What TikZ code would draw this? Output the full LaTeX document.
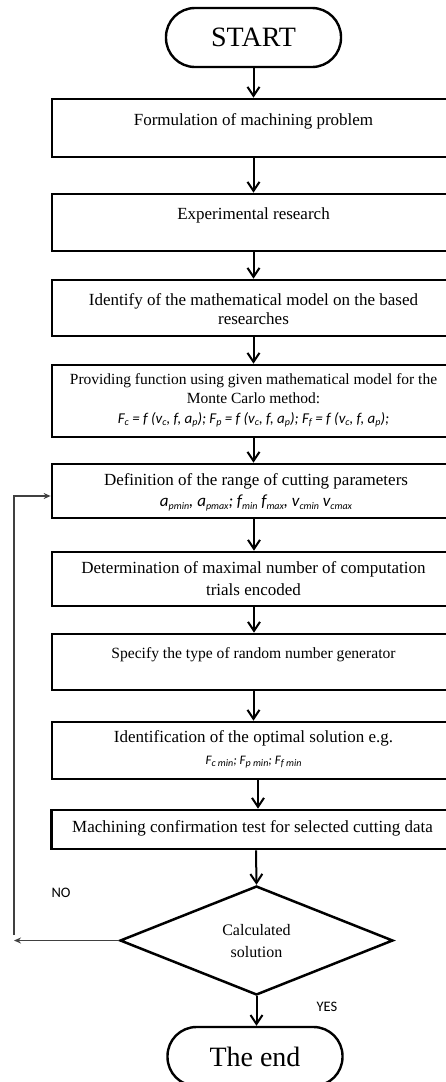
\documentclass[tikz,border=0pt]{standalone}
\usepackage{fontspec}
\setmainfont{Liberation Serif}
\newfontfamily\calfont{Carlito}
\usetikzlibrary{arrows.meta,shapes.geometric}
\newcommand{\lsub}[1]{\raisebox{-0.35ex}{\fontsize{10}{10}\selectfont #1}}
\begin{document}
\begin{tikzpicture}[x=1pt,y=-1pt,
  box/.style={draw,line width=2.7pt,minimum width=403pt,inner sep=0pt},
  term/.style={draw,line width=2.4pt,rounded corners=29pt,minimum width=175pt,minimum height=59pt,inner sep=0pt,font=\fontsize{28}{30}\selectfont},
  txt/.style={align=center,inner sep=0pt,font=\fontsize{17}{19}\selectfont},
  flow/.style={line width=2pt,-{Straight Barb[length=9pt,width=12pt]}},
  fb/.style={line width=1.3pt,draw=black!75},
  fbtip/.style={-{Stealth[length=7pt,width=6pt]}},
  lab/.style={font=\calfont\fontsize{14.5}{16}\selectfont,inner sep=0pt}
]
\useasboundingbox (0,0) rectangle (446,1082);
\clip (0,0) rectangle (446,1082);

% terminators
\node[term] (start) at (253.5,37.5) {\raisebox{-3pt}{START}};
\node[term] (end) at (255,1056.5) {\raisebox{-1.5pt}{The end}};

% boxes
\node[box,minimum height=58pt] (b1) at (253.5,128) {};
\node[box,minimum height=57pt] (b2) at (253.5,222.5) {};
\node[box,minimum height=56pt] (b3) at (253.5,308) {};
\node[box,minimum height=72pt] (b4) at (253.5,401) {};
\node[box,minimum height=54pt] (b5) at (253.5,491) {};
\node[box,minimum height=54pt] (b6) at (253.5,579) {};
\node[box,minimum height=56pt] (b7) at (253.5,662) {};
\node[box,minimum height=57pt] (b8) at (253.5,750.5) {};
\node[box,minimum height=39pt] (b9) at (253,829.5) {};

% texts
\node[txt] (t1) at (253.5,121) {Formulation of machining problem};
\node[txt] (t2) at (253.5,215) {Experimental research};
\node[txt,font=\fontsize{17}{18.5}\selectfont] (t3) at (253.5,309) {Identify of the mathematical model on the based\\researches};
\node[txt,font=\fontsize{15.5}{19.5}\selectfont] (t4) at (253.5,400.5) {Providing function using given mathematical model for the\\Monte Carlo method:\\{\calfont\itshape\fontsize{15}{17}\selectfont F\lsub{c} = f (v\lsub{c}, f, a\lsub{p}); F\lsub{p} = f (v\lsub{c}, f, a\lsub{p}); F\lsub{f} = f (v\lsub{c}, f, a\lsub{p});}};
\node[txt,font=\fontsize{17}{21}\selectfont] (t5) at (256,492.5) {Definition of the range of cutting parameters\\{\calfont\itshape\fontsize{17}{19}\selectfont a\lsub{pmin}, a\lsub{pmax}; f\lsub{min} f\lsub{max}, v\lsub{cmin} v\lsub{cmax}}};
\node[txt,font=\fontsize{17}{22}\selectfont] (t6) at (253.5,579) {Determination of maximal number of computation\\trials encoded};
\node[txt,font=\fontsize{15.6}{18}\selectfont] (t7) at (253.5,655) {Specify the type of random number generator};
\node[txt,font=\fontsize{17}{22}\selectfont] (t8) at (253.5,749) {Identification of the optimal solution e.g.\\{\calfont\itshape\fontsize{13}{14}\selectfont F\lsub{c min}; F\lsub{p min}; F\lsub{f min}}};
\node[txt] (t9) at (252.5,828) {Machining confirmation test for selected cutting data};

% decision
\node[draw,diamond,line width=2.5pt,minimum width=273pt,minimum height=109pt,inner sep=0pt,aspect=2.5] (dia) at (256.5,940.5) {};
\node[txt,font=\fontsize{16}{22}\selectfont] (td) at (256.5,941) {Calculated\\solution};

% labels
\node[lab] (no) at (61,893) {NO};
\node[lab] (yes) at (327,1007) {YES};

% flow arrows
\draw[flow] (start.south) -- (b1.north);
\draw[flow] (b1.south) -- (b2.north);
\draw[flow] (b2.south) -- (b3.north);
\draw[flow] (b3.south) -- (b4.north);
\draw[flow] (b4.south) -- (b5.north);
\draw[flow] ([xshift=0.5pt]b5.south) -- ([xshift=0.5pt]b6.north);
\draw[flow] ([xshift=0.5pt]b6.south) -- ([xshift=0.5pt]b7.north);
\draw[flow] (b7.south) -- (b8.north);
\draw[flow] ([xshift=4.5pt]b8.south) -- ([xshift=5pt]b9.north);
\draw[flow] ([xshift=3pt]b9.south) -- (dia.north);
\draw[flow] (dia.south) -- ([xshift=1.5pt]end.north);

% feedback loop
\coordinate (fbL) at (14,940.5);
\coordinate (fbB) at (14,935);
\coordinate (fbT) at (14,496);
\draw[fb,fbtip] (dia.west) -- (fbL);
\draw[fb,fbtip] (fbB) -- (fbT) -- (fbT -| b5.west);
\end{tikzpicture}
\end{document}
